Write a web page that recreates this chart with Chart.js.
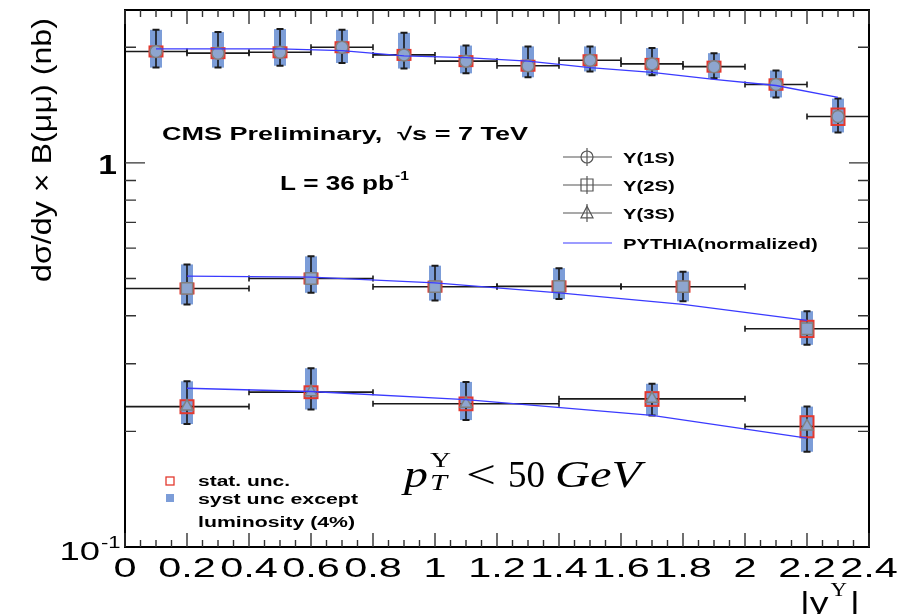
<!DOCTYPE html>
<html>
<head>
<meta charset="utf-8">
<script src="https://cdn.jsdelivr.net/npm/chart.js@4.4.1/dist/chart.umd.min.js"></script>
<style>
  body { margin: 0; background: #fff; }
  canvas { display: block; }
</style>
</head>
<body>
<canvas id="upsChart" width="897" height="614"></canvas>
<script>
// Upsilon(nS) dsigma/dy x B(mumu) vs |y|, CMS preliminary 7 TeV
const yMin = 0.1;
const yMax = 2.5;

// Y(1S): bins of 0.2
const edges1S = [0, 0.2, 0.4, 0.6, 0.8, 1.0, 1.2, 1.4, 1.6, 1.8, 2.0, 2.2, 2.4];
const x1S = [0.1, 0.3, 0.5, 0.7, 0.9, 1.1, 1.3, 1.5, 1.7, 1.9, 2.1, 2.3];
const y1S = [1.95, 1.93, 1.94, 2.00, 1.91, 1.84, 1.79, 1.85, 1.81, 1.78, 1.60, 1.32];
const lo1S = [1.77, 1.77, 1.79, 1.82, 1.76, 1.71, 1.67, 1.73, 1.69, 1.66, 1.48, 1.20];
const hi1S = [2.22, 2.19, 2.23, 2.22, 2.18, 2.02, 2.01, 2.01, 1.99, 1.93, 1.74, 1.47];
const stat1S = [0.04, 0.04, 0.04, 0.04, 0.04, 0.04, 0.04, 0.04, 0.04, 0.04, 0.05, 0.065];
const pythia1S = [1.98, 1.98, 1.98, 1.96, 1.90, 1.88, 1.84, 1.77, 1.72, 1.65, 1.59, 1.48];

// Y(2S): bins of 0.4
const edges2S = [0, 0.4, 0.8, 1.2, 1.6, 2.0, 2.4];
const x2S = [0.2, 0.6, 1.0, 1.4, 1.8, 2.2];
const y2S = [0.471, 0.500, 0.476, 0.477, 0.476, 0.370];
const lo2S = [0.428, 0.459, 0.438, 0.442, 0.436, 0.336];
const hi2S = [0.544, 0.571, 0.540, 0.532, 0.521, 0.411];
const stat2S = [0.012, 0.012, 0.012, 0.013, 0.014, 0.018];
const pythia2S = [0.507, 0.504, 0.487, 0.459, 0.428, 0.389];

// Y(3S)
const edges3S = [0, 0.4, 0.8, 1.4, 2.0, 2.4];
const x3S = [0.2, 0.6, 1.1, 1.7, 2.2];
const y3S = [0.232, 0.253, 0.236, 0.243, 0.206];
const lo3S = [0.209, 0.228, 0.214, 0.220, 0.177];
const hi3S = [0.270, 0.292, 0.269, 0.266, 0.232];
const stat3S = [0.009, 0.009, 0.009, 0.010, 0.013];
const pythia3S = [0.259, 0.254, 0.242, 0.220, 0.192];

// axis labels
const xTickVals = [0, 0.2, 0.4, 0.6, 0.8, 1, 1.2, 1.4, 1.6, 1.8, 2, 2.2, 2.4];
const xTickLabels = ['0', '0.2', '0.4', '0.6', '0.8', '1', '1.2', '1.4', '1.6', '1.8', '2', '2.2', '2.4'];
const yMinorTicks = [0.2, 0.3, 0.4, 0.5, 0.6, 0.7, 0.8, 0.9, 2];
const yMajorTicks = [1];

const legendLabels = ['\u03A5(1S)', '\u03A5(2S)', '\u03A5(3S)', 'PYTHIA(normalized)'];

const SYST_BLUE = '#7c9dd8';
const STAT_RED = '#e3392f';
const PYTHIA_BLUE = '#3a3aff';
const MARKER_EDGE = '#808080';
const MARKER_FILL = '#8ea5cf';

const series = [
    { x: x1S, y: y1S, lo: lo1S, hi: hi1S, stat: stat1S, edges: edges1S },
    { x: x2S, y: y2S, lo: lo2S, hi: hi2S, stat: stat2S, edges: edges2S },
    { x: x3S, y: y3S, lo: lo3S, hi: hi3S, stat: stat3S, edges: edges3S }
];

function pts(xs, ys) {
    return xs.map((v, i) => ({ x: v, y: ys[i] }));
}

// dibuja texto estirado horizontalmente (la figura original esta ensanchada)
function stretchText(ctx, txt, x, y, sx, align) {
    const w = ctx.measureText(txt).width * sx;
    let x0 = x;
    if (align === 'center') x0 = x - w / 2;
    else if (align === 'right') x0 = x - w;
    ctx.save();
    ctx.translate(x0, y);
    ctx.scale(sx, 1);
    ctx.textAlign = 'left';
    ctx.fillText(txt, 0, 0);
    ctx.restore();
    return w;
}

function fitText(ctx, txt, x, y, w) {
    const sx = w / ctx.measureText(txt).width;
    return stretchText(ctx, txt, x, y, sx, 'left');
}

function drawMarkerGlyph(ctx, style, cx, cy, r) {
    ctx.beginPath();
    if (style === 'circle') {
        ctx.arc(cx, cy, r, 0, Math.PI * 2);
    } else if (style === 'rect') {
        ctx.rect(cx - r, cy - r, 2 * r, 2 * r);
    } else {
        ctx.moveTo(cx, cy - r * 1.1);
        ctx.lineTo(cx + r, cy + r * 0.8);
        ctx.lineTo(cx - r, cy + r * 0.8);
        ctx.closePath();
    }
    ctx.stroke();
}

const hepPlugin = {
    id: 'hepDecor',
    beforeDatasetsDraw(chart) {
        const { ctx, scales: { x, y } } = chart;
        ctx.save();
        series.forEach(s => {
            s.x.forEach((xv, i) => {
                const px = x.getPixelForValue(xv);
                const py = y.getPixelForValue(s.y[i]);
                const pHi = y.getPixelForValue(s.hi[i]);
                const pLo = y.getPixelForValue(s.lo[i]);
                // caja de sistematico
                ctx.fillStyle = SYST_BLUE;
                ctx.fillRect(px - 6, pHi, 12, pLo - pHi);
                // barra horizontal (ancho del bin)
                const xa = x.getPixelForValue(s.edges[i]);
                const xb = x.getPixelForValue(s.edges[i + 1]);
                ctx.strokeStyle = '#1a1a1a';
                ctx.lineWidth = 1.6;
                ctx.beginPath();
                ctx.moveTo(xa, py); ctx.lineTo(xb, py);
                ctx.moveTo(xa, py - 3); ctx.lineTo(xa, py + 3);
                ctx.moveTo(xb, py - 3); ctx.lineTo(xb, py + 3);
                // barra vertical con topes
                ctx.moveTo(px, pHi); ctx.lineTo(px, pLo);
                ctx.stroke();
                ctx.lineWidth = 2;
                ctx.beginPath();
                ctx.moveTo(px - 3.5, pHi); ctx.lineTo(px + 3.5, pHi);
                ctx.moveTo(px - 3.5, pLo); ctx.lineTo(px + 3.5, pLo);
                ctx.stroke();
                // caja estadistica (queda en parte tapada por el marcador)
                const t = y.getPixelForValue(s.y[i] + s.stat[i]);
                const b = y.getPixelForValue(s.y[i] - s.stat[i]);
                ctx.strokeStyle = STAT_RED;
                ctx.lineWidth = 2;
                ctx.strokeRect(px - 6.5, Math.min(t, py - 5), 13, Math.max(b, py + 5) - Math.min(t, py - 5));
            });
        });
        ctx.restore();
    },
    afterDraw(chart) {
        const { ctx, chartArea: a, scales: { x, y } } = chart;
        ctx.save();

        // marco
        ctx.strokeStyle = '#000';
        ctx.lineWidth = 2;
        ctx.strokeRect(a.left, a.top, a.right - a.left, a.bottom - a.top);

        // ticks hacia dentro
        ctx.lineWidth = 1.4;
        ctx.strokeStyle = '#333';
        ctx.beginPath();
        for (let i = 0; i <= 48; i++) {
            const px = x.getPixelForValue(i * 0.05);
            const len = i % 4 === 0 ? 14 : 7;
            ctx.moveTo(px, a.bottom); ctx.lineTo(px, a.bottom - len);
            ctx.moveTo(px, a.top); ctx.lineTo(px, a.top + len);
        }
        yMinorTicks.forEach(v => {
            const py = y.getPixelForValue(v);
            ctx.moveTo(a.left, py); ctx.lineTo(a.left + 11, py);
            ctx.moveTo(a.right, py); ctx.lineTo(a.right - 11, py);
        });
        yMajorTicks.forEach(v => {
            const py = y.getPixelForValue(v);
            ctx.moveTo(a.left, py); ctx.lineTo(a.left + 20, py);
            ctx.moveTo(a.right, py); ctx.lineTo(a.right - 20, py);
        });
        ctx.stroke();

        // etiquetas del eje x
        ctx.fillStyle = '#000';
        ctx.textBaseline = 'alphabetic';
        ctx.font = '28px "Liberation Sans", Arial, sans-serif';
        xTickVals.forEach((v, i) => {
            stretchText(ctx, xTickLabels[i], x.getPixelForValue(v), 577, 1.48, 'center');
        });

        // etiquetas del eje y
        ctx.font = 'bold 28px "Liberation Sans", Arial, sans-serif';
        stretchText(ctx, '1', a.left - 8, y.getPixelForValue(1) + 11, 1.2, 'right');
        ctx.font = '26px "Liberation Sans", Arial, sans-serif';
        stretchText(ctx, '10', 100, 560, 1.4, 'right');
        ctx.font = '17px "Liberation Sans", Arial, sans-serif';
        stretchText(ctx, '-1', 101, 548, 1.3, 'left');

        // titulo eje y
        ctx.save();
        ctx.translate(44, 150);
        ctx.rotate(-Math.PI / 2);
        ctx.font = '27px "Liberation Sans", Arial, sans-serif';
        const yt = 'd\u03C3/dy \u00D7 B(\u03BC\u03BC) (nb)';
        const yw = ctx.measureText(yt).width;
        ctx.translate(-132, 0);
        ctx.scale(264 / yw, 1);
        ctx.textAlign = 'left';
        ctx.textBaseline = 'middle';
        ctx.fillText(yt, 0, 0);
        ctx.restore();

        // titulo eje x  |y^Y|
        ctx.textBaseline = 'alphabetic';
        ctx.font = '30px "Liberation Sans", Arial, sans-serif';
        let cx = 800;
        cx += stretchText(ctx, '|y', cx, 613, 1.25, 'left');
        ctx.font = '19px "Liberation Serif", "DejaVu Serif", serif';
        cx += stretchText(ctx, '\u03A5', cx + 2, 596, 1.2, 'left') + 5;
        ctx.font = '30px "Liberation Sans", Arial, sans-serif';
        stretchText(ctx, '|', cx, 613, 1.25, 'left');

        // textos CMS
        ctx.font = 'bold 18px "Liberation Sans", Arial, sans-serif';
        fitText(ctx, 'CMS Preliminary,  \u221As = 7 TeV', 162, 140, 366);
        ctx.font = 'bold 20px "Liberation Sans", Arial, sans-serif';
        const lw = fitText(ctx, 'L = 36 pb', 280, 190, 114);
        ctx.font = 'bold 13px "Liberation Sans", Arial, sans-serif';
        stretchText(ctx, '-1', 280 + lw + 1, 180, 1.2, 'left');

        // leyenda principal
        const rows = [157, 185, 213, 243];
        const styles = ['circle', 'rect', 'triangle'];
        ctx.font = 'bold 15px "Liberation Sans", Arial, sans-serif';
        rows.forEach((ry, i) => {
            ctx.lineWidth = 1.2;
            if (i < 3) {
                ctx.strokeStyle = '#555';
                ctx.beginPath();
                ctx.moveTo(563, ry); ctx.lineTo(612, ry);
                ctx.moveTo(587, ry - 9); ctx.lineTo(587, ry + 9);
                ctx.stroke();
                drawMarkerGlyph(ctx, styles[i], 587, ry, 6);
            } else {
                ctx.strokeStyle = PYTHIA_BLUE;
                ctx.beginPath();
                ctx.moveTo(563, ry); ctx.lineTo(612, ry);
                ctx.stroke();
            }
            ctx.fillStyle = '#000';
            stretchText(ctx, legendLabels[i], 623, ry + 5.5, 1.35, 'left');
        });

        // leyenda de incertidumbres
        ctx.strokeStyle = STAT_RED;
        ctx.lineWidth = 1.3;
        ctx.strokeRect(166, 477, 8, 8);
        ctx.fillStyle = SYST_BLUE;
        ctx.fillRect(166, 494, 8, 8);
        ctx.fillStyle = '#000';
        ctx.font = 'bold 14px "Liberation Sans", Arial, sans-serif';
        fitText(ctx, 'stat. unc.', 198, 486, 92);
        fitText(ctx, 'syst unc except', 198, 504, 160);
        fitText(ctx, 'luminosity (4%)', 198, 527, 157);

        // pT < 50 GeV
        const serif = '"Liberation Serif", "DejaVu Serif", serif';
        ctx.font = 'italic 38px ' + serif;
        fitText(ctx, 'p', 404, 487, 24);
        ctx.font = 'italic 24px ' + serif;
        fitText(ctx, 'T', 430, 490, 17);
        ctx.font = '22px ' + serif;
        fitText(ctx, '\u03A5', 430, 467, 21);
        ctx.font = '40px ' + serif;
        fitText(ctx, '<', 466, 488, 30);
        ctx.font = '38px ' + serif;
        fitText(ctx, '50', 508, 487, 37);
        ctx.font = 'italic 38px ' + serif;
        fitText(ctx, 'GeV', 555, 487, 86);

        ctx.restore();
    }
};

const ctx = document.getElementById('upsChart').getContext('2d');

const pointCommon = {
    showLine: false,
    borderColor: MARKER_EDGE,
    backgroundColor: MARKER_FILL,
    pointBorderColor: MARKER_EDGE,
    pointBackgroundColor: MARKER_FILL,
    pointBorderWidth: 1.5
};
const lineCommon = {
    showLine: true,
    borderColor: PYTHIA_BLUE,
    borderWidth: 1.3,
    pointRadius: 0,
    tension: 0,
    fill: false
};

new Chart(ctx, {
    type: 'scatter',
    data: {
        datasets: [
            Object.assign({ label: 'PYTHIA 1S', data: pts(x1S, pythia1S) }, lineCommon),
            Object.assign({ label: 'PYTHIA 2S', data: pts(x2S, pythia2S) }, lineCommon),
            Object.assign({ label: 'PYTHIA 3S', data: pts(x3S, pythia3S) }, lineCommon),
            Object.assign({ label: 'Y(1S)', data: pts(x1S, y1S), pointStyle: 'circle', pointRadius: 6 }, pointCommon),
            Object.assign({ label: 'Y(2S)', data: pts(x2S, y2S), pointStyle: 'rect', pointRadius: 8 }, pointCommon),
            Object.assign({ label: 'Y(3S)', data: pts(x3S, y3S), pointStyle: 'triangle', pointRadius: 7 }, pointCommon)
        ]
    },
    options: {
        responsive: false,
        animation: false,
        devicePixelRatio: 1,
        layout: { padding: { left: 125, top: 10, right: 28, bottom: 67 } },
        scales: {
            x: {
                type: 'linear',
                min: 0,
                max: 2.4,
                ticks: { display: false },
                grid: { display: false },
                border: { display: false },
                afterFit: s => { s.height = 0; s.paddingLeft = 0; s.paddingRight = 0; }
            },
            y: {
                type: 'logarithmic',
                min: yMin,
                max: yMax,
                ticks: { display: false },
                grid: { display: false },
                border: { display: false },
                afterFit: s => { s.width = 0; s.paddingTop = 0; s.paddingBottom = 0; }
            }
        },
        plugins: {
            legend: { display: false },
            tooltip: { enabled: false }
        }
    },
    plugins: [hepPlugin]
});
</script>
</body>
</html>
